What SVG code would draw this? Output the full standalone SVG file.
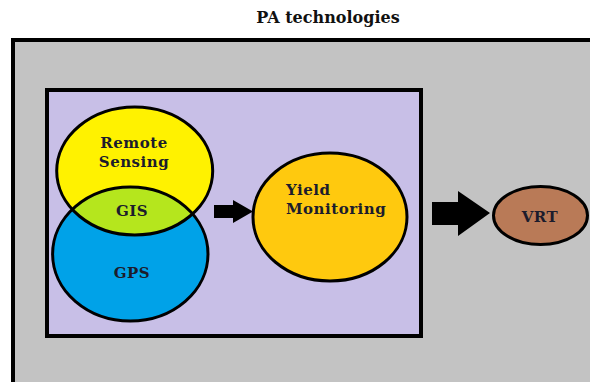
<svg xmlns="http://www.w3.org/2000/svg" width="590" height="382" viewBox="0 0 590 382">
<style>
.lbl{font-weight:bold;font-size:15px;fill:#1c1c2c;letter-spacing:0.5px}
.ell{stroke:#000;stroke-width:3}
.arrow{fill:#000}
</style>
<defs>
<clipPath id="clipY"><ellipse cx="134.7" cy="171" rx="78" ry="64"/></clipPath>
</defs>
<rect width="590" height="382" fill="#fff"/>
<g font-family="DejaVu Serif, Liberation Serif, serif">
<text x="328" y="23" text-anchor="middle" font-weight="bold" font-size="16" fill="#111">PA technologies</text>
<g id="pa-technologies">
<rect x="13" y="40" width="600" height="360" fill="#c3c3c3" stroke="#000" stroke-width="4"/>
</g>
<g id="core-box">
<rect x="47" y="90" width="374" height="246" fill="#c8bfe7" stroke="#000" stroke-width="4"/>
</g>
<g id="remote-sensing">
<ellipse cx="134.7" cy="171" rx="78" ry="64" fill="#fff200"/>
</g>
<g id="gps">
<ellipse cx="130.3" cy="254" rx="77.7" ry="67" fill="#00a2e8"/>
<text class="lbl" x="132" y="278" text-anchor="middle">GPS</text>
</g>
<g id="gis">
<ellipse cx="130.3" cy="254" rx="77.7" ry="67" fill="#b5e61d" clip-path="url(#clipY)"/>
<ellipse cx="134.7" cy="171" rx="78" ry="64" fill="none" class="ell"/>
<ellipse cx="130.3" cy="254" rx="77.7" ry="67" fill="none" class="ell"/>
<text class="lbl" x="132" y="216" text-anchor="middle">GIS</text>
<text class="lbl" x="134" y="148" text-anchor="middle">Remote</text>
<text class="lbl" x="134" y="167" text-anchor="middle">Sensing</text>
</g>
<g id="yield-monitoring">
<ellipse cx="330" cy="217" rx="77" ry="64" fill="#ffc90e" class="ell"/>
<text class="lbl" x="286" y="195">Yield</text>
<text class="lbl" x="286" y="214">Monitoring</text>
</g>
<g id="vrt">
<ellipse cx="540.5" cy="215.5" rx="47" ry="29" fill="#b97a57" class="ell"/>
<text class="lbl" x="540" y="222" text-anchor="middle">VRT</text>
</g>
</g>
<g id="connectors">
<polygon class="arrow" points="214,205 233,205 233,200 253,211.5 233,223 233,218 214,218"/>
<polygon class="arrow" points="432,202 458,202 458,191 490,213 458,236 458,225 432,225"/>
</g>
</svg>
